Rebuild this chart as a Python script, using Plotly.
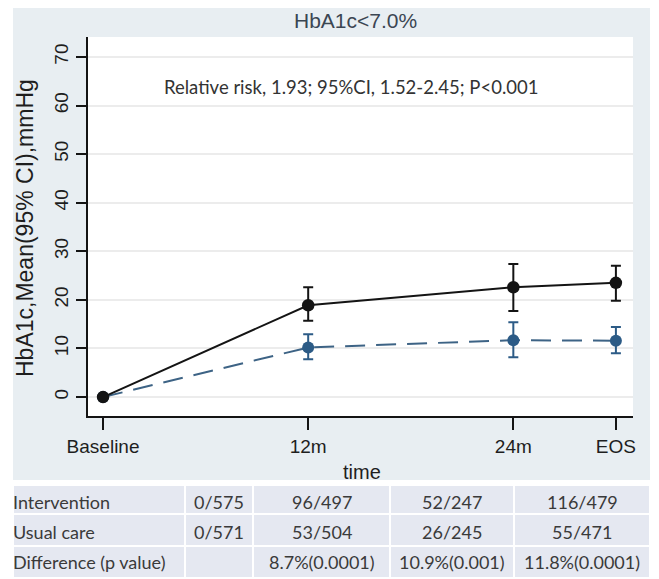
import plotly.graph_objects as go

# ---------------- data ----------------
categories = ["Baseline", "12m", "24m", "EOS"]
months = [0, 12, 24, 30]

intervention_mean = [0, 18.9, 22.6, 23.5]
intervention_lo = [0, 15.7, 17.7, 19.8]
intervention_hi = [0, 22.6, 27.4, 27.0]

usual_mean = [0, 10.2, 11.7, 11.6]
usual_lo = [0, 7.8, 8.2, 9.0]
usual_hi = [0, 12.9, 15.4, 14.4]

y_ticks = [0, 10, 20, 30, 40, 50, 60, 70]

row_labels = ["Intervention", "Usual care", "Difference (p value)"]
intervention_counts = ["0/575", "96/497", "52/247", "116/479"]
usual_counts = ["0/571", "53/504", "26/245", "55/471"]
differences = ["", "8.7%(0.0001)", "10.9%(0.001)", "11.8%(0.0001)"]

title_text = "HbA1c<7.0%"
note_text = "Relative risk, 1.93; 95%CI, 1.52-2.45; P<0.001"
y_title = "HbA1c,Mean(95% CI),mmHg"
x_title = "time"

# ---------------- layout helpers ----------------
# page body has an 8px margin; figure covers the visible window area
OFF = 8
W, H = 651, 571
def px(x):
    return (x - OFF) / W
def py(y):
    return 1 - (y - OFF) / H

BLACK = "#141414"
BLUE = "#2c5b86"
BG = "#e8eef2"
ROW_BG = "#e5e8f1"
STATA_FONT = "Liberation Sans, Arial, sans-serif"
CAL_FONT = "Lato, Carlito, sans-serif"

fig = go.Figure()

fig.add_trace(go.Scatter(
    x=months, y=usual_mean, mode="lines+markers",
    line=dict(color="#3d6385", width=2, dash="20px,11px"),
    marker=dict(color=BLUE, size=12),
    error_y=dict(type="data", symmetric=False,
                 array=[h - m for h, m in zip(usual_hi, usual_mean)],
                 arrayminus=[m - l for m, l in zip(usual_mean, usual_lo)],
                 color=BLUE, thickness=2, width=5),
    showlegend=False, hoverinfo="skip"))

fig.add_trace(go.Scatter(
    x=months, y=intervention_mean, mode="lines+markers",
    line=dict(color=BLACK, width=2),
    marker=dict(color=BLACK, size=12.5),
    error_y=dict(type="data", symmetric=False,
                 array=[h - m for h, m in zip(intervention_hi, intervention_mean)],
                 arrayminus=[m - l for m, l in zip(intervention_mean, intervention_lo)],
                 color=BLACK, thickness=2, width=5),
    showlegend=False, hoverinfo="skip"))

shapes = [
    dict(type="rect", xref="paper", yref="paper", x0=px(13), x1=px(650),
         y0=py(480), y1=py(7), fillcolor=BG, line=dict(width=0), layer="below"),
    dict(type="rect", xref="paper", yref="paper", x0=px(88), x1=px(633),
         y0=py(416), y1=py(37), fillcolor="white", line=dict(width=0), layer="below"),
]

# table cells
col_edges = [13, 185, 253, 390, 514, 650]
row_edges = [(485, 514), (514, 546), (546, 578)]
row_centers = [502, 532, 562]
table_rows = [intervention_counts, usual_counts, differences]
annotations = []
for r, (y0, y1) in enumerate(row_edges):
    for c in range(len(col_edges) - 1):
        shapes.append(dict(type="rect", xref="paper", yref="paper",
                           x0=px(col_edges[c]), x1=px(col_edges[c + 1]),
                           y0=py(y1), y1=py(y0), fillcolor=ROW_BG,
                           line=dict(color="white", width=2), layer="below"))
    annotations.append(dict(x=px(11), y=py(row_centers[r]), xref="paper", yref="paper",
                            text=row_labels[r], showarrow=False, xanchor="left",
                            yanchor="middle", font=dict(family=CAL_FONT, size=18, color="#3a3a3a")))
    for c, val in enumerate(table_rows[r]):
        cx = (col_edges[c + 1] + col_edges[c + 2]) / 2
        annotations.append(dict(x=px(cx), y=py(row_centers[r]), xref="paper", yref="paper",
                                text=val, showarrow=False, xanchor="center", yanchor="middle",
                                font=dict(family=CAL_FONT, size=18, color="#3a3a3a")))

annotations += [
    dict(x=px(355), y=py(21), xref="paper", yref="paper", text=title_text,
         showarrow=False, xanchor="center", yanchor="middle",
         font=dict(family=STATA_FONT, size=21, color="#3b4652")),
    dict(x=px(351), y=py(87), xref="paper", yref="paper", text=note_text,
         showarrow=False, xanchor="center", yanchor="middle",
         font=dict(family=CAL_FONT, size=18.5, color="#333333")),
    dict(x=px(25), y=py(228), xref="paper", yref="paper", text=y_title,
         showarrow=False, xanchor="center", yanchor="middle", textangle=-90,
         font=dict(family=STATA_FONT, size=23, color="#1e1e1e")),
    dict(x=px(362), y=py(472), xref="paper", yref="paper", text=x_title,
         showarrow=False, xanchor="center", yanchor="middle",
         font=dict(family=STATA_FONT, size=20, color="#1e1e1e")),
]

fig.update_layout(
    template="none",
    width=W, height=H, margin=dict(l=0, r=0, t=0, b=0, pad=0, autoexpand=False),
    paper_bgcolor="white", plot_bgcolor="rgba(0,0,0,0)",
    shapes=shapes, annotations=annotations,
    xaxis=dict(domain=[px(88), px(633)], range=[-0.88, 31.0], automargin=False,
               tickmode="array", tickvals=months, ticktext=categories,
               ticks="outside", ticklen=12, tickwidth=2, tickcolor=BLACK,
               showline=True, linecolor=BLACK, linewidth=2, showgrid=False,
               zeroline=False, tickfont=dict(family=STATA_FONT, size=19, color="#1e1e1e")),
    yaxis=dict(domain=[py(416), py(37)], range=[-3.9, 74.1], automargin=False,
               tickmode="array", tickvals=y_ticks, tickangle=-90,
               ticks="outside", ticklen=10, tickwidth=2, tickcolor=BLACK,
               showline=True, linecolor=BLACK, linewidth=2,
               showgrid=True, gridcolor="#ececec", gridwidth=1.5,
               zeroline=False, tickfont=dict(family=STATA_FONT, size=19, color="#1e1e1e")),
)

fig.write_html("out.html")
